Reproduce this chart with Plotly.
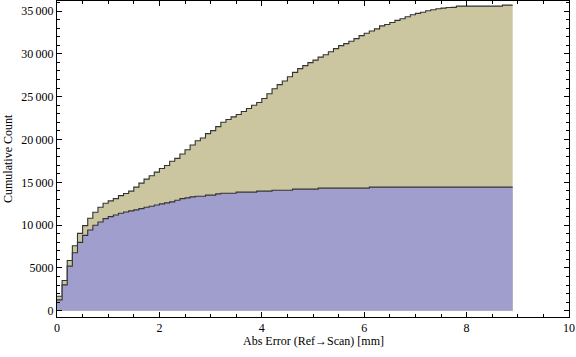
import plotly.graph_objects as go

# Bin edges (mm) : 0.1 mm bins from 0 to 8.9
bin_width = 0.1
n_bins = 89

# Cumulative counts, all scans (tan)
total_cum = [1700, 3540, 5880, 7600, 9040, 9940, 10800, 11500, 12090, 12560,
             12830, 13100, 13450, 13690, 13970, 14440, 14900, 15370, 15760, 16190,
             16620, 16970, 17460, 17790, 18300, 18810, 19360, 19860, 20180, 20680,
             21030, 21500, 22010, 22330, 22640, 22910, 23260, 23610, 24000, 24320,
             24790, 25340, 25920, 26410, 26830, 27330, 27830, 28270, 28620, 28970,
             29270, 29620, 29900, 30250, 30610, 30960, 31190, 31470, 31780, 32130,
             32400, 32670, 32910, 33260, 33420, 33660, 33900, 34100, 34330, 34560,
             34720, 34850, 35020, 35140, 35260, 35340, 35410, 35420, 35570, 35570,
             35570, 35570, 35570, 35570, 35570, 35570, 35570, 35690, 35690]

# Cumulative counts, subset (blue)
sub_cum = [1270, 3030, 5210, 6780, 7990, 8810, 9430, 9980, 10370, 10760,
           10990, 11190, 11390, 11540, 11660, 11780, 11930, 12090, 12210, 12360,
           12480, 12600, 12720, 12910, 13100, 13180, 13300, 13380, 13380, 13500,
           13500, 13650, 13730, 13730, 13730, 13850, 13850, 13850, 13850, 13970,
           13970, 13970, 14080, 14080, 14080, 14080, 14200, 14200, 14200, 14200,
           14200, 14320, 14320, 14320, 14320, 14320, 14320, 14320, 14320, 14320,
           14320, 14440, 14440, 14440, 14440, 14440, 14440, 14440, 14440, 14440,
           14440, 14440, 14440, 14440, 14440, 14440, 14440, 14440, 14440, 14440,
           14440, 14440, 14440, 14440, 14440, 14440, 14440, 14440, 14440]

y_tick_vals = [0, 5000, 10000, 15000, 20000, 25000, 30000, 35000]
y_tick_text = ["0", "5000", "10\u2009000", "15\u2009000", "20\u2009000",
               "25\u2009000", "30\u2009000", "35\u2009000"]
x_tick_vals = [0, 2, 4, 6, 8, 10]

x_title = "Abs Error (Ref\u2192Scan) [mm]"
y_title = "Cumulative Count"

edges = [round(i * bin_width, 2) for i in range(n_bins + 1)]

def step_xy(vals):
    xs = edges[:]
    ys = list(vals) + [vals[-1]]
    return xs, ys

fig = go.Figure()
tx, ty = step_xy(total_cum)
fig.add_trace(go.Scatter(x=tx, y=ty, mode="lines", line_shape="hv",
                         line=dict(color="#333333", width=1.1),
                         fill="tozeroy", fillcolor="#CBC6A0",
                         hoverinfo="skip", showlegend=False))
bx, by = step_xy(sub_cum)
fig.add_trace(go.Scatter(x=bx, y=by, mode="lines", line_shape="hv",
                         line=dict(color="#333333", width=1.1),
                         fill="tozeroy", fillcolor="#A09ECC",
                         hoverinfo="skip", showlegend=False))

font = dict(family="Liberation Serif, Times New Roman, serif", size=12, color="#000000")

fig.update_layout(
    width=576, height=357,
    margin=dict(l=57, r=7, t=1, b=40, autoexpand=False),
    paper_bgcolor="white", plot_bgcolor="white",
    font=font,
    xaxis=dict(range=[0, 10], tickvals=x_tick_vals, ticktext=[str(v) for v in x_tick_vals],
               ticks="inside", ticklen=5, tickcolor="#000", tickwidth=1,
               showline=True, linecolor="#000", linewidth=1, mirror="allticks",
               showgrid=False, zeroline=False,
               minor=dict(ticks="inside", ticklen=3, dtick=0.5, tick0=0, tickcolor="#000", showgrid=False),
               tickfont=font),
    yaxis=dict(range=[-724, 36167], tickvals=y_tick_vals, ticktext=y_tick_text,
               ticks="inside", ticklen=5, tickcolor="#000", tickwidth=1,
               showline=True, linecolor="#000", linewidth=1, mirror="allticks",
               showgrid=False, zeroline=False,
               minor=dict(ticks="inside", ticklen=3, dtick=1000, tick0=0, tickcolor="#000", showgrid=False),
               tickfont=font),
    annotations=[
        dict(text=x_title, xref="paper", yref="paper", x=0.5, y=-(341 - 316.7) / 316.0,
             xanchor="center", yanchor="middle", showarrow=False, font=font),
        dict(text=y_title, xref="paper", yref="paper", x=-(57 - 8) / 512.0, y=0.5,
             xanchor="center", yanchor="middle", textangle=-90, showarrow=False, font=font),
    ],
)

fig.write_html("out.html",
               config={"displayModeBar": False},
               post_script="document.body.style.margin='0';document.body.style.padding='0';document.body.style.overflow='hidden';")
